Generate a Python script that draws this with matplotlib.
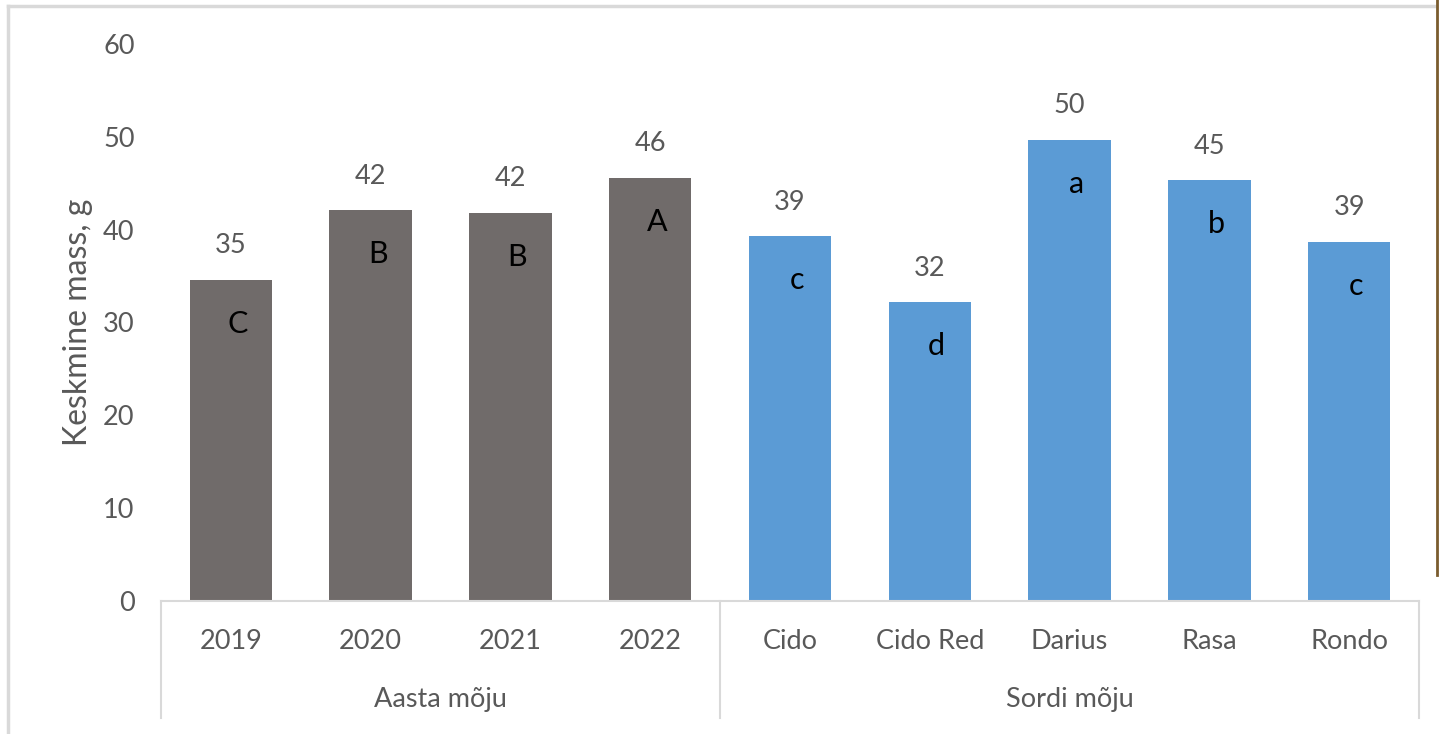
import matplotlib.pyplot as plt
from matplotlib.lines import Line2D
from matplotlib.transforms import blended_transform_factory

# bar data: years first, then varieties
categories = ['2019', '2020', '2021', '2022', 'Cido', 'Cido Red', 'Darius', 'Rasa', 'Rondo']
values = [34.6, 42.1, 41.8, 45.6, 39.3, 32.2, 49.7, 45.3, 38.7]
letters = ['C', 'B', 'B', 'A', 'c', 'd', 'a', 'b', 'c']
groups = ['Aasta mõju', 'Sordi mõju']
group_sizes = [4, 5]

gray = '#706b6a'
blue = '#5b9bd5'
text_gray = '#595959'
line_gray = '#d9d9d9'

plt.rcParams['font.family'] = ['Lato', 'DejaVu Sans']

fig = plt.figure(figsize=(14.39, 7.34), dpi=100)
ax = fig.add_axes([161 / 1439, 133 / 734, 1258 / 1439, 557 / 734])

colors = [gray] * group_sizes[0] + [blue] * group_sizes[1]
x = list(range(len(categories)))
bars = ax.bar(x, values, width=0.59, color=colors)

for xi, v, let in zip(x, values, letters):
    ax.annotate(f'{v:.0f}', (xi, v), xytext=(0, 34), textcoords='offset pixels',
                ha='center', va='center', fontsize=19.5, color=text_gray)
    ax.annotate(let, (xi, v), xytext=(7, -44), textcoords='offset pixels',
                ha='center', va='center', fontsize=22, color='black')

ax.set_xlim(-0.5, len(categories) - 0.5)
ax.set_ylim(0, 60)
ax.set_yticks(range(0, 61, 10))
ax.set_xticks(x)
ax.set_xticklabels(categories)
ax.tick_params(axis='x', length=0, pad=20, labelsize=19.5, labelcolor=text_gray)
ax.tick_params(axis='y', length=0, pad=19, labelsize=19.5, labelcolor=text_gray)
ax.set_ylabel('Keskmine mass, g', fontsize=23, color=text_gray, labelpad=7)

for side in ['left', 'top', 'right']:
    ax.spines[side].set_visible(False)
ax.spines['bottom'].set_color(line_gray)
ax.spines['bottom'].set_linewidth(1.5)

# two-level category axis: separators and group names
trans = blended_transform_factory(ax.transData, ax.transAxes)
edge = -0.5
for name, n in zip(groups, group_sizes):
    ax.add_line(Line2D([edge, edge], [0, -0.21], transform=trans, color=line_gray,
                       lw=1.5, clip_on=False))
    ax.text(edge + n / 2, -0.177, name, transform=trans, ha='center', va='center',
            fontsize=19.5, color=text_gray)
    edge += n
ax.add_line(Line2D([edge, edge], [0, -0.21], transform=trans, color=line_gray,
                   lw=1.5, clip_on=False))

# outer chart frame
fig.add_artist(Line2D([8 / 1439, 8 / 1439], [0, 1 - 6 / 734], color=line_gray, lw=2.5))
fig.add_artist(Line2D([8 / 1439, 1436 / 1439], [1 - 6 / 734, 1 - 6 / 734], color=line_gray, lw=2.5))
fig.add_artist(Line2D([1437 / 1439, 1437 / 1439], [1 - 575 / 734, 1], color='#7a5c2e', lw=2))

fig.savefig('out.png', dpi=100)
